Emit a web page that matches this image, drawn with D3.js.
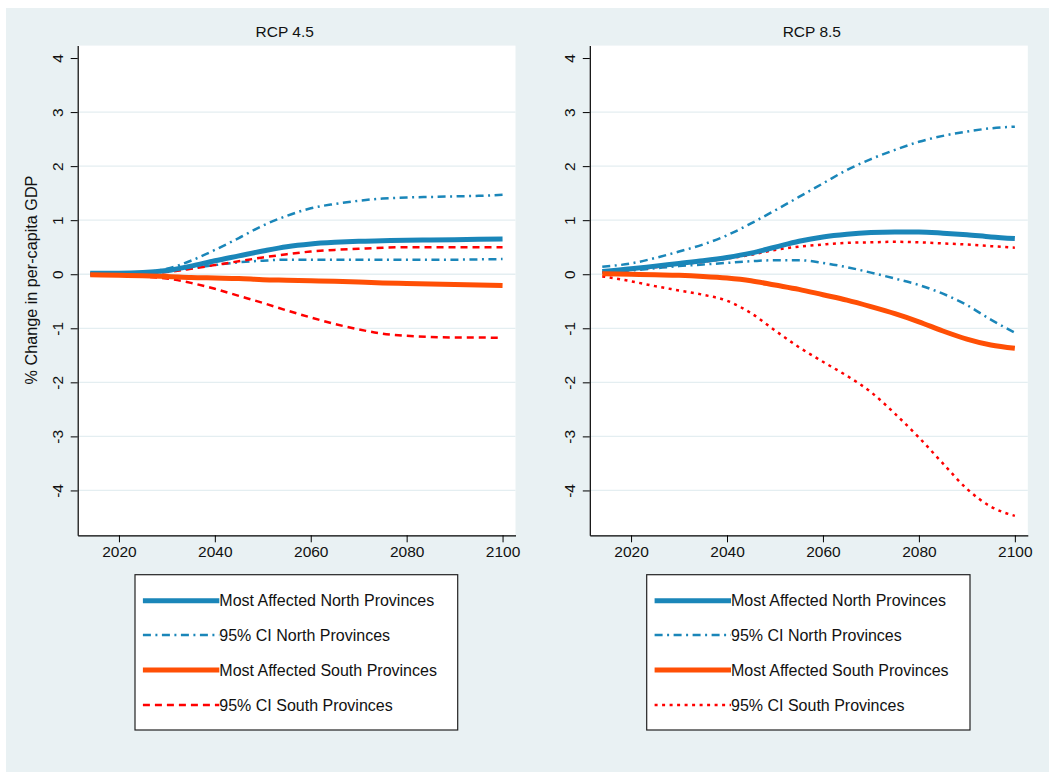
<!DOCTYPE html>
<html>
<head>
<meta charset="utf-8">
<script src="https://cdnjs.cloudflare.com/ajax/libs/d3/7.8.5/d3.min.js"></script>
<style>
  body { margin: 0; background: #fff; }
  text { font-family: "Liberation Sans", Arial, sans-serif; fill: #111; }
</style>
</head>
<body>
<script>
// data (% change in per-capita GDP)
var years = [2014, 2020, 2025, 2030, 2035, 2040, 2045, 2050, 2055, 2060, 2065, 2070, 2075, 2080, 2085, 2090, 2095, 2100];

var rcp45North   = [0.02, 0.02, 0.03, 0.07, 0.15, 0.25, 0.34, 0.43, 0.51, 0.56, 0.59, 0.61, 0.62, 0.63, 0.635, 0.64, 0.645, 0.65];
var rcp45NorthHi = [0.02, 0.02, 0.04, 0.10, 0.25, 0.45, 0.67, 0.90, 1.08, 1.22, 1.30, 1.36, 1.40, 1.42, 1.43, 1.44, 1.45, 1.47];
var rcp45NorthLo = [0.01, 0.01, 0.02, 0.05, 0.11, 0.17, 0.22, 0.25, 0.27, 0.27, 0.27, 0.27, 0.27, 0.27, 0.27, 0.27, 0.275, 0.28];
var rcp45South   = [-0.01, -0.02, -0.03, -0.04, -0.06, -0.07, -0.08, -0.10, -0.11, -0.12, -0.13, -0.145, -0.16, -0.17, -0.18, -0.19, -0.20, -0.21];
var rcp45SouthHi = [0.0, 0.0, 0.01, 0.04, 0.10, 0.17, 0.24, 0.31, 0.37, 0.42, 0.45, 0.47, 0.49, 0.50, 0.50, 0.50, 0.50, 0.50];
var rcp45SouthLo = [-0.01, -0.02, -0.04, -0.08, -0.16, -0.27, -0.40, -0.53, -0.67, -0.80, -0.92, -1.02, -1.10, -1.14, -1.16, -1.17, -1.17, -1.18];

var rcp85North   = [0.05, 0.10, 0.15, 0.20, 0.25, 0.31, 0.39, 0.50, 0.61, 0.69, 0.74, 0.77, 0.78, 0.78, 0.76, 0.73, 0.69, 0.66];
var rcp85NorthHi = [0.14, 0.20, 0.30, 0.42, 0.55, 0.72, 0.94, 1.18, 1.43, 1.68, 1.93, 2.13, 2.30, 2.45, 2.56, 2.64, 2.70, 2.73];
var rcp85NorthLo = [0.03, 0.07, 0.11, 0.15, 0.18, 0.21, 0.24, 0.26, 0.26, 0.21, 0.13, 0.03, -0.08, -0.20, -0.36, -0.57, -0.84, -1.08];
var rcp85South   = [0.01, 0.0, -0.01, -0.02, -0.04, -0.07, -0.12, -0.20, -0.28, -0.38, -0.48, -0.60, -0.73, -0.88, -1.05, -1.20, -1.31, -1.37];
var rcp85SouthHi = [0.04, 0.08, 0.13, 0.18, 0.23, 0.29, 0.36, 0.45, 0.51, 0.55, 0.58, 0.59, 0.60, 0.59, 0.57, 0.55, 0.52, 0.49];
var rcp85SouthLo = [-0.04, -0.13, -0.22, -0.30, -0.38, -0.49, -0.72, -1.04, -1.35, -1.62, -1.88, -2.18, -2.58, -3.02, -3.50, -3.97, -4.30, -4.47];

var yTicks = [-4, -3, -2, -1, 0, 1, 2, 3, 4];
var xTicks = [2020, 2040, 2060, 2080, 2100];
var legendLabels = ["Most Affected North Provinces", "95% CI North Provinces",
                    "Most Affected South Provinces", "95% CI South Provinces"];

var width = 1049, height = 772;
var bg = "#e9f1f3";
var blue = "#1a86b9", orange = "#ff4f05", red = "#ff0000";

var svg = d3.select("body").append("svg")
  .attr("width", width)
  .attr("height", height);

svg.append("rect")
  .attr("x", 6).attr("y", 8)
  .attr("width", width - 6).attr("height", height - 8)
  .attr("fill", bg);

var panels = [
  { title: "RCP 4.5", titleX: 284.7, x0: 77.7, x1: 515.5, legX: 135, legW: 322.7, southDash: "7,5",
    series: [rcp45North, rcp45NorthHi, rcp45NorthLo, rcp45South, rcp45SouthHi, rcp45SouthLo] },
  { title: "RCP 8.5", titleX: 811.8, x0: 589.8, x1: 1027.8, legX: 646.7, legW: 323.3, southDash: "3,4.5",
    series: [rcp85North, rcp85NorthHi, rcp85NorthLo, rcp85South, rcp85SouthHi, rcp85SouthLo] }
];

var plotTop = 45.6, plotBottom = 535.3;
var plain = function(d){ return String(d); };   // keep the ascii hyphen for negatives

function drawPanel(p, idx) {
  var x = d3.scaleLinear().domain([2011.4, 2102.7]).range([p.x0, p.x1]);
  var y = d3.scaleLinear().domain([-4.83, 4.23]).range([plotBottom, plotTop]);

  var g = svg.append("g");

  g.append("rect")
    .attr("x", p.x0).attr("y", plotTop)
    .attr("width", p.x1 - p.x0).attr("height", plotBottom - plotTop)
    .attr("fill", "#fff");

  g.selectAll(".grid")
    .data(yTicks.filter(function(d){ return d < 4; }))
    .enter().append("line")
    .attr("x1", p.x0).attr("x2", p.x1)
    .attr("y1", function(d){ return y(d); })
    .attr("y2", function(d){ return y(d); })
    .attr("stroke", "#e4eef1")
    .attr("stroke-width", 1.3);

  var yAxis = g.append("g")
    .attr("transform", "translate(" + p.x0 + ",0)")
    .call(d3.axisLeft(y).tickValues(yTicks).tickSize(7).tickSizeOuter(0).tickFormat(plain));
  yAxis.selectAll("text")
    .attr("transform", "rotate(-90)")
    .attr("x", 0).attr("y", -14.5).attr("dy", 0)
    .attr("text-anchor", "middle")
    .style("font-size", "15.5px");

  var xAxis = g.append("g")
    .attr("transform", "translate(0," + plotBottom + ")")
    .call(d3.axisBottom(x).tickValues(xTicks).tickSize(7).tickSizeOuter(0).tickFormat(plain));
  xAxis.selectAll("text")
    .attr("y", 11).attr("dy", "0.71em")
    .style("font-size", "15.5px");

  [yAxis, xAxis].forEach(function(a){
    a.select(".domain").attr("stroke", "#000").attr("stroke-width", 1.2);
    a.selectAll(".tick line").attr("stroke", "#000").attr("stroke-width", 1);
    a.selectAll("text").attr("fill", "#111").style("font-family", "'Liberation Sans', Arial, sans-serif");
  });

  g.append("text")
    .attr("x", p.titleX).attr("y", 36.5)
    .attr("text-anchor", "middle")
    .style("font-size", "15.5px")
    .text(p.title);

  var styles = [
    { color: blue,   width: 5,   dash: null },
    { color: blue,   width: 2.5, dash: "8,4.5,2,4.5" },
    { color: blue,   width: 2.5, dash: "8,4.5,2,4.5" },
    { color: orange, width: 5,   dash: null },
    { color: red,    width: 2.5, dash: p.southDash },
    { color: red,    width: 2.5, dash: p.southDash }
  ];

  var line = d3.line()
    .x(function(d, i){ return x(years[i]); })
    .y(function(d){ return y(d); })
    .curve(d3.curveMonotoneX);

  // draw order: CI lines under the central estimates
  [2, 1, 5, 4, 0, 3].forEach(function(k){
    g.append("path")
      .attr("d", line(p.series[k]))
      .attr("fill", "none")
      .attr("stroke", styles[k].color)
      .attr("stroke-width", styles[k].width)
      .attr("stroke-dasharray", styles[k].dash);
  });

  // legend
  var leg = g.append("g").attr("transform", "translate(" + p.legX + ",574.7)");
  leg.append("rect")
    .attr("width", p.legW).attr("height", 155.3)
    .attr("fill", "#fff")
    .attr("stroke", "#222")
    .attr("stroke-width", 1.2);

  var legStyles = [styles[0], styles[1], styles[3], styles[4]];
  var rowY = [26, 60.3, 95.3, 130.3];
  legendLabels.forEach(function(lbl, i){
    leg.append("line")
      .attr("x1", 7.9).attr("x2", 84.3)
      .attr("y1", rowY[i]).attr("y2", rowY[i])
      .attr("stroke", legStyles[i].color)
      .attr("stroke-width", legStyles[i].width)
      .attr("stroke-dasharray", legStyles[i].dash);
    leg.append("text")
      .attr("x", 84.3).attr("y", rowY[i] + 5.8)
      .style("font-size", "16px")
      .text(lbl);
  });
}

panels.forEach(drawPanel);

svg.append("text")
  .attr("transform", "translate(36.5,280) rotate(-90)")
  .attr("text-anchor", "middle")
  .style("font-size", "16.2px")
  .text("% Change in per-capita GDP");
</script>
</body>
</html>
